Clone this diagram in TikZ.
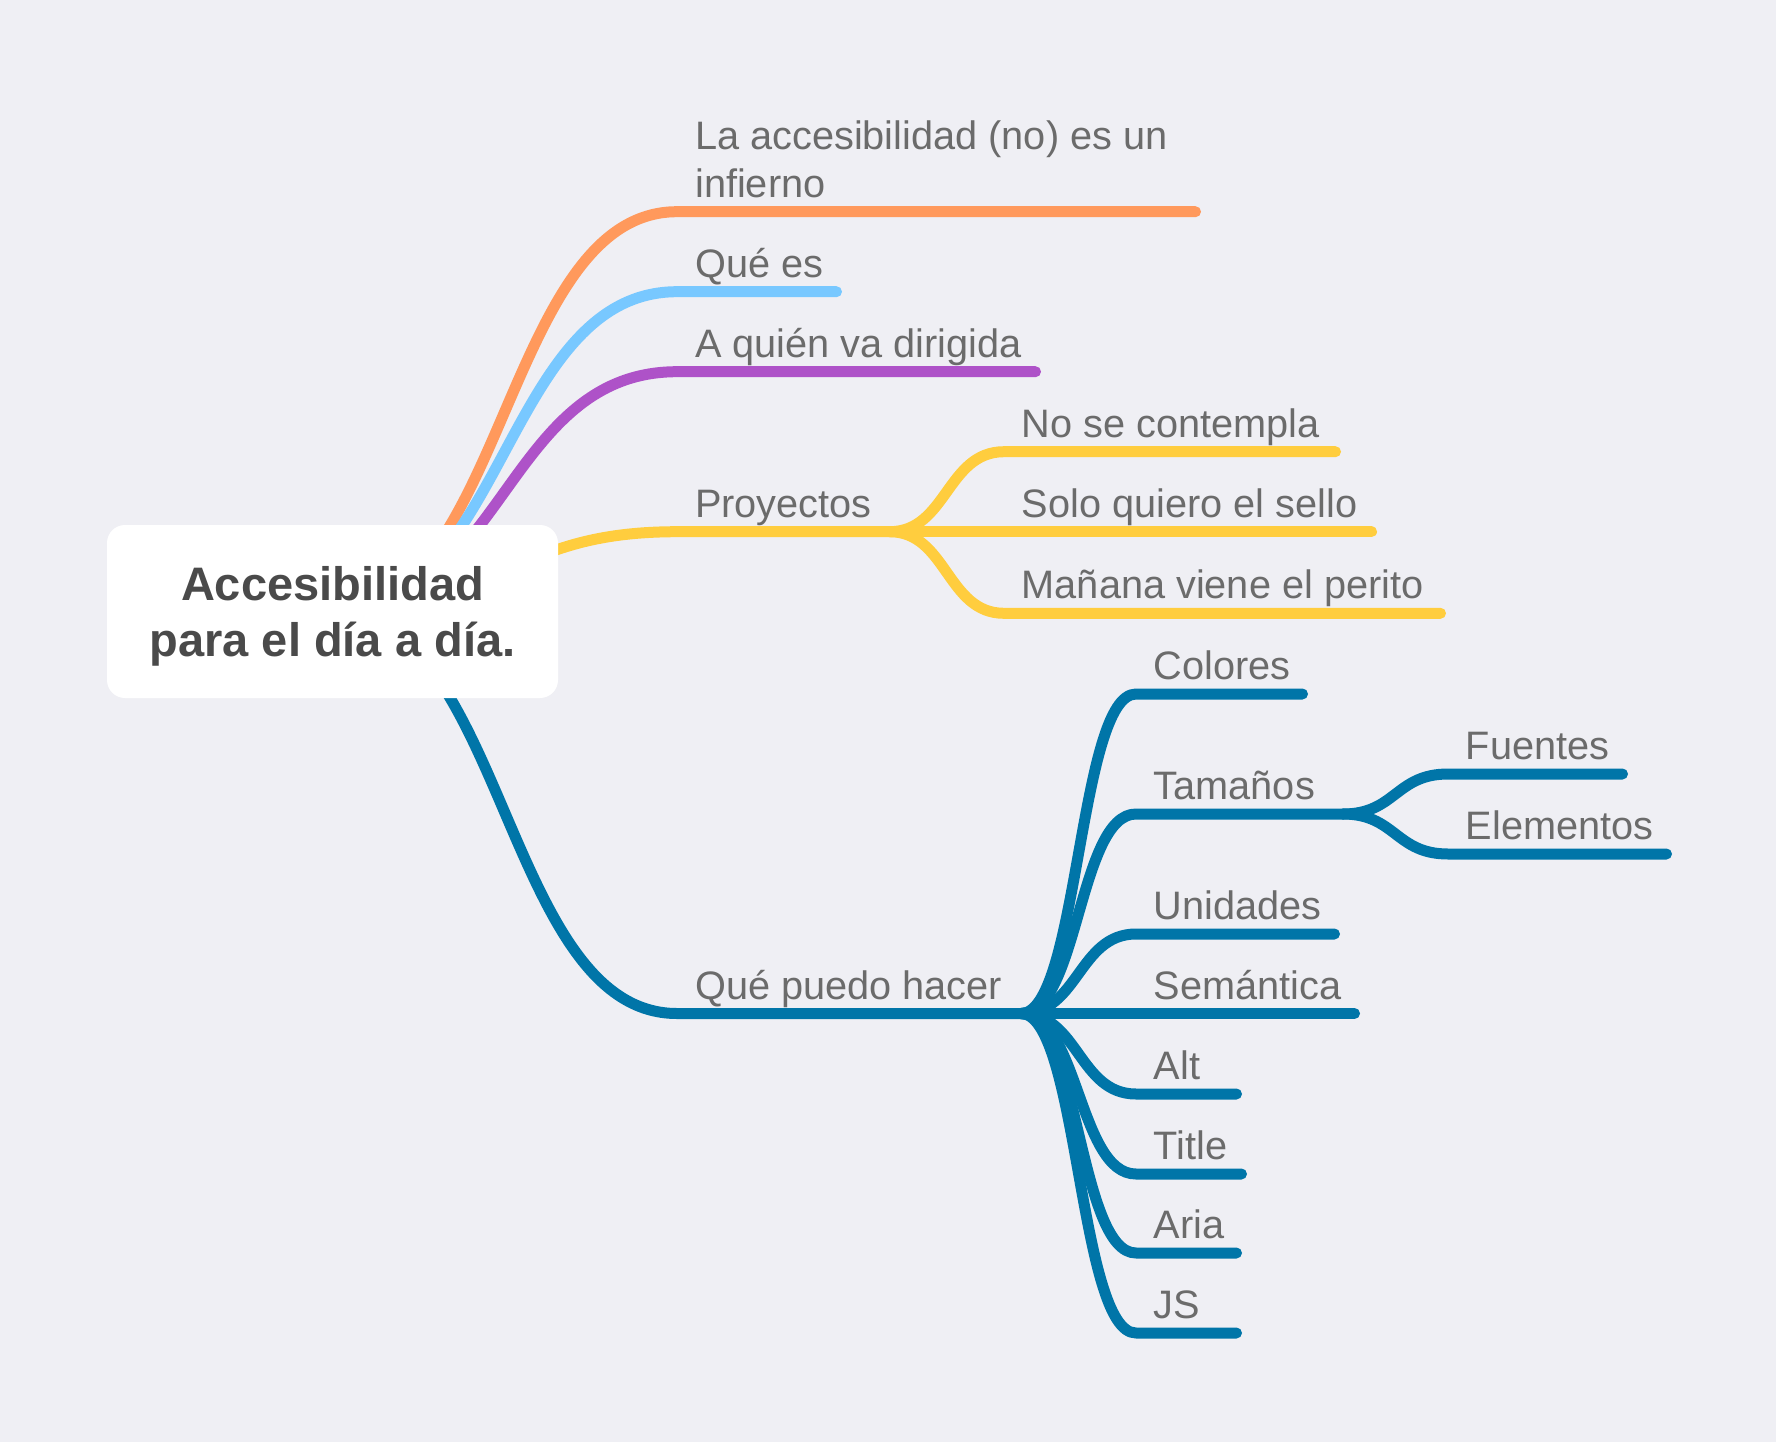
\documentclass[tikz,border=0pt]{standalone}
\usepackage{fontspec}
\setmainfont{Liberation Sans}
\usetikzlibrary{calc}
\definecolor{bgc}{RGB}{239,239,244}
\definecolor{cOrange}{RGB}{255,153,92}
\definecolor{cSky}{RGB}{120,200,255}
\definecolor{cPurple}{RGB}{174,82,200}
\definecolor{cYellow}{RGB}{255,205,62}
\definecolor{cBlue}{RGB}{0,117,168}
\definecolor{txt}{RGB}{107,107,107}
\definecolor{ttl}{RGB}{74,74,74}
\pgfdeclarelayer{back}
\pgfdeclarelayer{lines}
\pgfsetlayers{back,lines,main}
% curve with horizontal tangents from #2 to #3, then straight to #4
\newcommand\mmlink[4]{%
  \draw[branch,#1] (#2) .. controls ($(#2)!0.5!(#2-|#3)$) and ($(#3)!0.5!(#3-|#2)$) .. (#3) -- (#4);}
\begin{document}
\begin{tikzpicture}[x=1pt,y=-1pt,
  branch/.style={line width=11pt, line cap=round, line join=round},
  lbl/.style={anchor=base west, inner sep=0pt, text=txt, font=\fontsize{39.7}{47.3}\selectfont},
  rootbox/.style={fill=white, rounded corners=18pt, minimum width=451pt, minimum height=173pt, inner sep=0pt},
  ttltext/.style={anchor=base, inner sep=0pt, text=ttl, font=\fontsize{47}{56.7}\selectfont\bfseries}]
\begin{pgfonlayer}{back}
\fill[bgc] (0,0) rectangle (1776,1442);
\end{pgfonlayer}
\useasboundingbox (0,0) rectangle (1776,1442);

% root
\node[rootbox] (root) at (332.5,611.5) {};
\coordinate (rc) at (root.center);
\node[ttltext] (title) at (332.5,600) {\begin{tabular}[t]{@{}c@{}}Accesibilidad\\para el día a día.\end{tabular}};

% main branch coordinates
\coordinate (s1) at (677,211.7);  \coordinate (e1) at (1195.5,211.7);
\coordinate (s2) at (677,291.7);  \coordinate (e2) at (836.5,291.7);
\coordinate (s3) at (677,371.7);  \coordinate (e3) at (1035.5,371.7);
\coordinate (s4) at (677,531.7);  \coordinate (e4) at (889.6,531.7);
\coordinate (s5) at (677,1013.5); \coordinate (e5) at (1021,1013.5);
% Proyectos children
\coordinate (p1s) at (1004,451.7); \coordinate (p1e) at (1335.5,451.7);
\coordinate (p2s) at (1004,531.7); \coordinate (p2e) at (1371.5,531.7);
\coordinate (p3s) at (1004,613.3); \coordinate (p3e) at (1440.5,613.3);
% Que puedo hacer children
\coordinate (q1s) at (1136,694);    \coordinate (q1e) at (1302.5,694);
\coordinate (q2s) at (1136,814);    \coordinate (q2e) at (1343,814);
\coordinate (q3s) at (1136,934);    \coordinate (q3e) at (1334.5,934);
\coordinate (q4s) at (1136,1013.5); \coordinate (q4e) at (1354.5,1013.5);
\coordinate (q5s) at (1136,1094);   \coordinate (q5e) at (1236.5,1094);
\coordinate (q6s) at (1136,1174);   \coordinate (q6e) at (1241.5,1174);
\coordinate (q7s) at (1136,1253);   \coordinate (q7e) at (1236.5,1253);
\coordinate (q8s) at (1136,1333);   \coordinate (q8e) at (1236.5,1333);
% Tamanos children
\coordinate (f1s) at (1448,774); \coordinate (f1e) at (1622.5,774);
\coordinate (f2s) at (1448,854); \coordinate (f2e) at (1666.5,854);

\begin{pgfonlayer}{lines}
\mmlink{cOrange}{rc}{s1}{e1}
\mmlink{cSky}{rc}{s2}{e2}
\mmlink{cPurple}{rc}{s3}{e3}
\mmlink{cYellow}{rc}{s4}{e4}
\mmlink{cBlue}{rc}{s5}{e5}
\mmlink{cYellow}{e4}{p1s}{p1e}
\mmlink{cYellow}{e4}{p2s}{p2e}
\mmlink{cYellow}{e4}{p3s}{p3e}
\mmlink{cBlue}{e5}{q1s}{q1e}
\mmlink{cBlue}{e5}{q2s}{q2e}
\mmlink{cBlue}{e5}{q3s}{q3e}
\mmlink{cBlue}{e5}{q4s}{q4e}
\mmlink{cBlue}{e5}{q5s}{q5e}
\mmlink{cBlue}{e5}{q6s}{q6e}
\mmlink{cBlue}{e5}{q7s}{q7e}
\mmlink{cBlue}{e5}{q8s}{q8e}
\mmlink{cBlue}{q2e}{f1s}{f1e}
\mmlink{cBlue}{q2e}{f2s}{f2e}
\end{pgfonlayer}

% labels
\node[lbl] (t1) at (695,150) {\begin{tabular}[t]{@{}l@{}}La accesibilidad (no) es un\\infierno\end{tabular}};
\node[lbl] (t2) at (695,277.2) {Qué es};
\node[lbl] (t3) at (695,357.2) {A quién va dirigida};
\node[lbl] (t4) at (695,517) {Proyectos};
\node[lbl] (t5) at (695,999.3) {Qué puedo hacer};
\node[lbl] (p1) at (1021.6,437) {No se contempla};
\node[lbl] (p2) at (1021.6,517) {Solo quiero el sello};
\node[lbl] (p3) at (1021.6,598.6) {Mañana viene el perito};
\node[lbl] (q1) at (1153.6,679.3) {Colores};
\node[lbl] (q2) at (1153.6,799.3) {Tamaños};
\node[lbl] (q3) at (1153.6,919.3) {Unidades};
\node[lbl] (q4) at (1153.6,999.3) {Semántica};
\node[lbl] (q5) at (1153.6,1079.3) {Alt};
\node[lbl] (q6) at (1153.6,1159.3) {Title};
\node[lbl] (q7) at (1153.6,1238.3) {Aria};
\node[lbl] (q8) at (1153.6,1318.3) {JS};
\node[lbl] (f1) at (1465.6,759.3) {Fuentes};
\node[lbl] (f2) at (1465.6,839.3) {Elementos};
\end{tikzpicture}
\end{document}
